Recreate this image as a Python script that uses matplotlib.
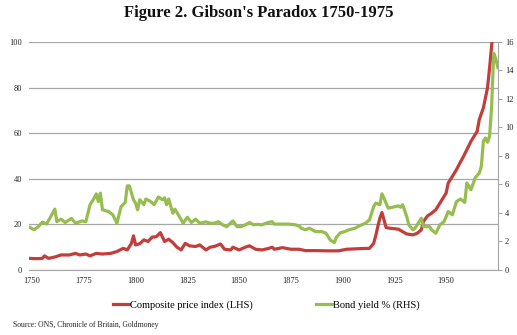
#!/usr/bin/env python3
import matplotlib
matplotlib.use("Agg")
import matplotlib.pyplot as plt

# composite price index (left axis)
price_years = [1749, 1751, 1753, 1755, 1756, 1758, 1761, 1764, 1768, 1771, 1773, 1776, 1778,
               1781, 1784, 1788, 1791, 1794, 1796, 1798, 1799, 1800, 1802, 1804, 1806, 1808,
               1810, 1812, 1813, 1814, 1816, 1818, 1820, 1822, 1824, 1826, 1829, 1831, 1834,
               1836, 1838, 1841, 1843, 1846, 1847, 1850, 1853, 1855, 1858, 1861, 1864, 1866,
               1867, 1871, 1875, 1879, 1882, 1887, 1893, 1898, 1902, 1909, 1913, 1915, 1916,
               1917, 1918, 1919, 1920, 1921, 1923, 1927, 1929, 1931, 1934, 1936, 1938, 1939,
               1941, 1943, 1945, 1947, 1948, 1950, 1951, 1953, 1955, 1957, 1958, 1960, 1962,
               1965, 1966, 1968, 1970, 1971, 1972, 1973]
price_index = [5.1, 5.0, 5.0, 5.1, 6.2, 5.1, 5.7, 6.6, 6.6, 7.3, 6.6, 7.0, 6.2,
               7.3, 7.0, 7.3, 8.1, 9.5, 8.8, 11.7, 15.0, 11.0, 11.5, 13.2, 12.5, 14.4,
               14.6, 16.4, 14.4, 12.5, 13.5, 12.0, 10.0, 8.8, 11.7, 10.6, 10.3, 11.0, 8.8,
               10.0, 10.3, 11.4, 9.1, 8.8, 10.0, 8.8, 10.0, 10.6, 9.1, 8.8, 9.4, 10.0,
               9.1, 9.8, 9.1, 9.1, 8.5, 8.5, 8.4, 8.4, 9.1, 9.4, 9.5, 11.7, 15.0,
               19.0, 22.7, 25.2, 22.0, 18.6, 18.3, 17.9, 16.8, 15.8, 15.4, 16.1, 17.6, 21.2,
               23.7, 24.9, 26.4, 29.3, 30.8, 33.7, 38.1, 41.0, 44.0, 47.5, 49.1, 52.7, 56.4,
               60.8, 65.9, 71.1, 79.9, 88.6, 98.5, 108.0]

# bond yield % (right axis)
yield_years = [1749, 1751, 1753, 1755, 1757, 1759, 1761, 1762, 1764, 1766, 1769, 1771, 1774,
               1776, 1778, 1780, 1781, 1782, 1783, 1784, 1787, 1789, 1791, 1793, 1795, 1796,
               1797, 1799, 1800, 1801, 1802, 1804, 1805, 1807, 1809, 1811, 1813, 1814, 1815,
               1816, 1818, 1819, 1821, 1823, 1825, 1827, 1829, 1831, 1834, 1836, 1838, 1840,
               1842, 1844, 1847, 1849, 1851, 1853, 1855, 1857, 1859, 1861, 1864, 1866, 1867,
               1871, 1874, 1877, 1879, 1880, 1882, 1884, 1887, 1890, 1892, 1894, 1896, 1897,
               1899, 1901, 1903, 1906, 1908, 1911, 1913, 1915, 1916, 1918, 1919, 1920, 1922,
               1924, 1927, 1928, 1929, 1931, 1932, 1934, 1935, 1938, 1939, 1942, 1943, 1945,
               1947, 1949, 1951, 1953, 1955, 1957, 1959, 1960, 1962, 1964, 1966, 1967, 1968,
               1969, 1970, 1971, 1972, 1973, 1974, 1975]
bond_yield = [2.98, 2.82, 3.04, 3.36, 3.23, 3.74, 4.27, 3.39, 3.57, 3.33, 3.62, 3.28, 3.44,
              3.39, 4.58, 5.04, 5.34, 4.80, 5.39, 4.22, 4.10, 3.87, 3.28, 4.45, 4.74, 5.90,
              5.90, 4.93, 4.69, 4.22, 4.93, 4.58, 4.98, 4.83, 4.58, 5.12, 4.93, 5.06, 4.58,
              4.98, 3.98, 4.27, 3.79, 3.28, 3.70, 3.33, 3.57, 3.28, 3.38, 3.28, 3.28, 3.39,
              3.17, 3.04, 3.44, 3.04, 3.04, 3.17, 3.33, 3.17, 3.20, 3.17, 3.33, 3.39, 3.22,
              3.22, 3.22, 3.17, 3.09, 2.93, 2.82, 2.93, 2.69, 2.69, 2.58, 2.11, 1.92, 2.30,
              2.62, 2.69, 2.82, 2.93, 3.09, 3.28, 3.52, 4.45, 4.69, 4.58, 5.34, 5.04, 4.34,
              4.40, 4.50, 4.40, 4.58, 3.74, 3.17, 2.82, 2.93, 3.63, 3.04, 3.04, 2.82, 2.58,
              3.17, 3.39, 4.10, 3.87, 4.80, 4.98, 4.74, 6.10, 5.63, 6.45, 6.80, 7.26, 9.02,
              9.26, 8.96, 9.38, 11.5, 15.2, 14.8, 14.2]

year_ticks = [1750, 1775, 1800, 1825, 1850, 1875, 1900, 1925, 1950]

red = "#C23E3B"
green = "#95BD4F"
grid_gray = "#A6A6A6"
serif = ["Liberation Serif", "DejaVu Serif"]
plt.rcParams['font.family'] = serif

fig = plt.figure(figsize=(5.17, 3.35), dpi=100)
ax = fig.add_axes([0.056, 0.194, 0.907, 0.681])
ax2 = ax.twinx()

ax.plot(price_years, price_index, color=red, lw=2.3, label="Composite price index (LHS)",
        solid_joinstyle="round")
ax2.plot(yield_years, bond_yield, color=green, lw=2.3, label="Bond yield % (RHS)",
         solid_joinstyle="round")

ax.set_xlim(1748.5, 1975)
ax.set_ylim(0, 100)
ax2.set_ylim(0, 16)
ax.set_yticks(range(0, 101, 20))
ax2.set_yticks(range(0, 17, 2))
ax.set_xticks(year_ticks)
ax.grid(axis="y", color=grid_gray, lw=0.9)
ax.set_axisbelow(True)

for a in (ax, ax2):
    for side in ("top", "left"):
        a.spines[side].set_visible(False)
    a.spines["bottom"].set_color(grid_gray)
    a.spines["right"].set_color(grid_gray)
ax2.spines["bottom"].set_visible(False)
ax.spines["right"].set_visible(False)

ax.tick_params(axis="x", length=0, labelsize=6, pad=5, colors="#222222")
ax.tick_params(axis="y", length=0, labelsize=6, pad=5, colors="#222222")
ax2.tick_params(axis="y", length=3, color=grid_gray, labelsize=6, pad=2, labelcolor="#222222")

fig.text(0.5, 0.962, "Figure 2. Gibson's Paradox 1750-1975", ha="center", va="center",
         fontsize=12, fontweight="bold", color="#111111")

h1, l1 = ax.get_legend_handles_labels()
h2, l2 = ax2.get_legend_handles_labels()
fig.legend(h1 + h2, l1 + l2, loc="center", bbox_to_anchor=(0.515, 0.09), ncol=2,
           frameon=False, fontsize=7.5, handlelength=1.6, handletextpad=0.1,
           columnspacing=6.0)

fig.text(0.025, 0.03, "Source: ONS, Chronicle of Britain, Goldmoney", fontsize=5.5,
         color="#222222", va="center")

fig.savefig("out.png", dpi=100)
